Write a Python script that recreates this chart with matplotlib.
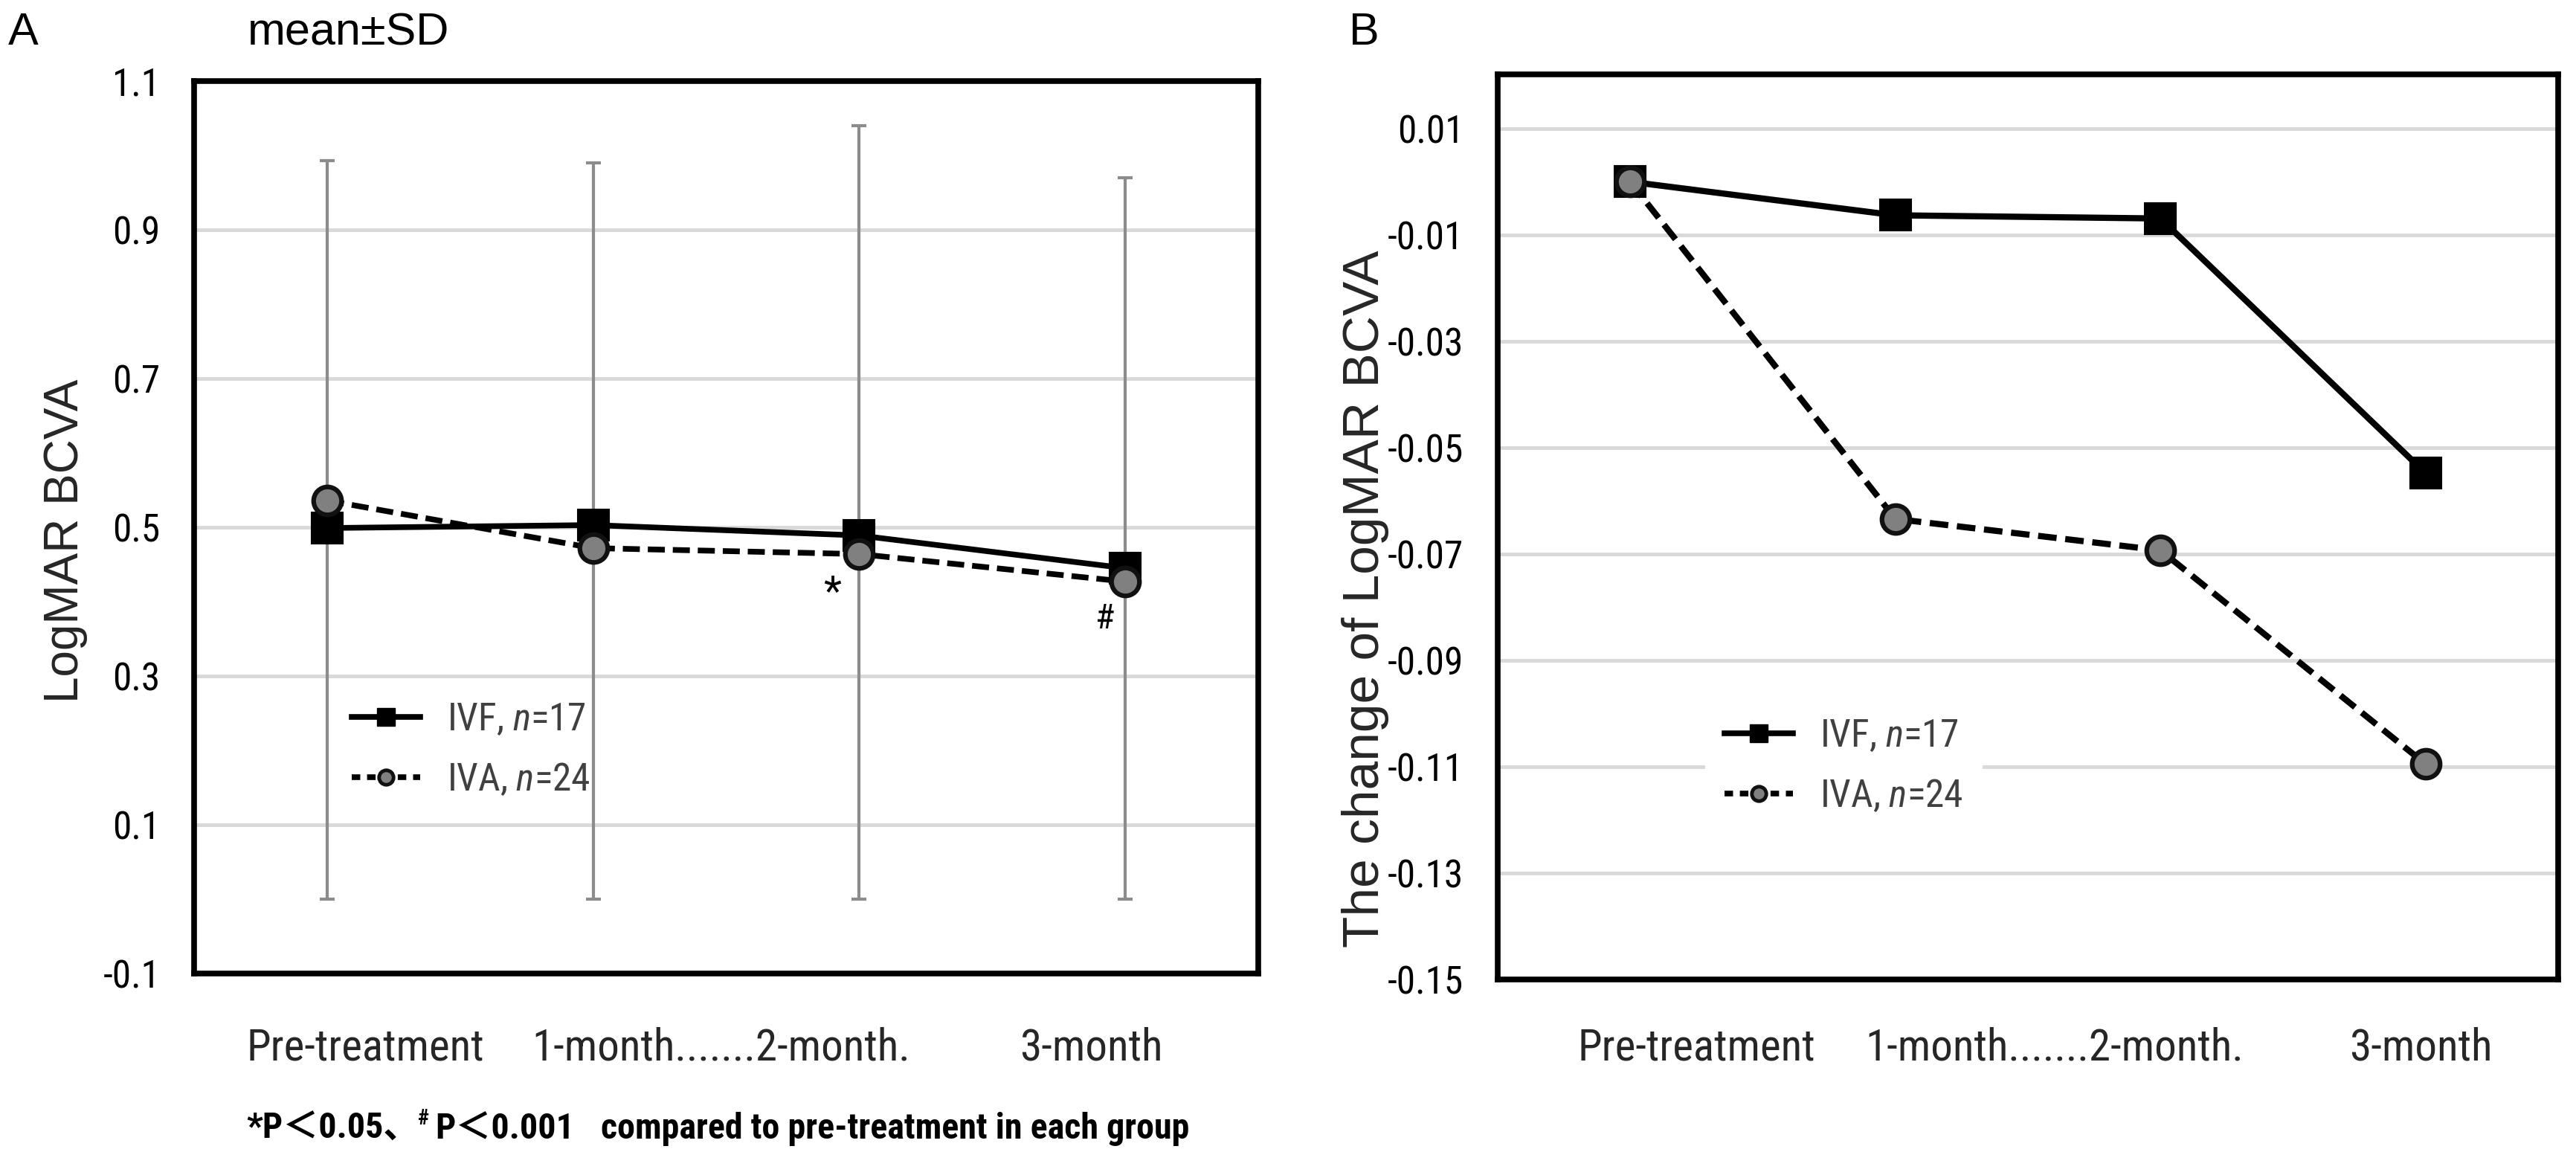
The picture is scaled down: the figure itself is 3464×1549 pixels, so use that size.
import numpy as np
import matplotlib
matplotlib.use("Agg")
import matplotlib.pyplot as plt
from matplotlib import font_manager
from matplotlib.lines import Line2D

# ---- data ----
timepoints = ["Pre-treatment", "1-month", "2-month", "3-month"]
xtick_labels = ["Pre-treatment", "1-month.......2-month.", "3-month"]

# panel A: LogMAR BCVA, mean and SD range
ivf_mean = [0.499, 0.503, 0.489, 0.445]
iva_mean = [0.536, 0.472, 0.464, 0.427]
sd_upper = [0.993, 0.990, 1.040, 0.970]
sd_lower = [0.0, 0.0, 0.0, 0.0]
yticks_a = [-0.1, 0.1, 0.3, 0.5, 0.7, 0.9, 1.1]

# panel B: change of LogMAR BCVA
ivf_change = [0.0, -0.0063, -0.0069, -0.0548]
iva_change = [0.0, -0.0634, -0.0693, -0.1095]
yticks_b = [-0.15, -0.13, -0.11, -0.09, -0.07, -0.05, -0.03, -0.01, 0.01]

ivf_label = "IVF, $n$=17"
iva_label = "IVA, $n$=24"


def pick_font(name, fallback):
    try:
        font_manager.findfont(name, fallback_to_default=False)
        return name
    except Exception:
        return fallback


def find_narrow():
    # look for a narrow / condensed sans face among the installed fonts
    order = ["liberation sans narrow", "arial narrow", "roboto condensed",
             "open sans condensed", "dejavu sans", "noto sans"]
    best = None
    for f in font_manager.fontManager.ttflist:
        tag = (f.name + " " + f.fname).lower()
        st = str(f.stretch).lower()
        if not ("narrow" in tag or "condensed" in tag or st in
                ("condensed", "semi-condensed", "extra-condensed")):
            continue
        if "mono" in tag or "serif" in f.name.lower():
            continue
        rank = len(order)
        for i, o in enumerate(order):
            if o in tag:
                rank = i
                break
        stretch = f.stretch if st not in ("normal", "400", "500") else "condensed"
        if best is None or rank < best[0]:
            best = (rank, f.name, stretch)
    if best is None:
        return pick_font("Liberation Sans", "DejaVu Sans"), "normal"
    return best[1], best[2]


NARROW, STRETCH = find_narrow()
WIDE = pick_font("Liberation Sans", "DejaVu Sans")

plt.rcParams["font.family"] = [NARROW, "DejaVu Sans"]
plt.rcParams["font.stretch"] = STRETCH
plt.rcParams["axes.unicode_minus"] = False
plt.rcParams["mathtext.fontset"] = "custom"
plt.rcParams["mathtext.rm"] = f"{NARROW}:stretch={STRETCH}"
plt.rcParams["mathtext.it"] = f"{NARROW}:style=italic:stretch={STRETCH}"

W, H = 3464, 1549
fig = plt.figure(figsize=(W / 100, H / 100), dpi=100)
renderer = fig.canvas.get_renderer()


def text_width(s, size, **kw):
    t = fig.text(0, 0, s, fontsize=size, **kw)
    w = t.get_window_extent(renderer).width
    t.remove()
    return w


# scale the narrow-font sizes so the category label matches its width (319 px)
k = 319 / text_width("Pre-treatment", 46)
k = min(k, 1.15)
FS_CAT = 46 * k
FS_TICK = 40 * k
FS_LEG = 40 * k
FS_FOOT = 34 * 791 / text_width("compared to pre-treatment in each group", 34,
                                 weight="bold")
FS_FOOT = min(FS_FOOT, 40)


def fpos(x, y):
    # pixel position (from top-left) -> figure fraction
    return x / W, 1 - y / H


def style_axes(ax):
    for s in ax.spines.values():
        s.set_linewidth(5.5)
        s.set_color("black")
    ax.yaxis.grid(True, color="#d9d9d9", linewidth=3.5)
    ax.set_axisbelow(True)
    ax.set_xticks([])
    ax.tick_params(axis="y", length=0, pad=33, labelsize=FS_TICK)
    ax.set_xlim(-0.5, 3.5)


x = np.arange(len(timepoints))

# ---------------- panel A ----------------
axA = fig.add_axes([261 / W, 1 - 1309 / H, 1431 / W, 1200 / H])
style_axes(axA)
axA.set_ylim(-0.1, 1.1)
axA.set_yticks(yticks_a)
axA.set_yticklabels([f"{v:.1f}" for v in yticks_a])

mean_arr = np.array(ivf_mean)
yerr = [mean_arr - np.array(sd_lower), np.array(sd_upper) - mean_arr]
axA.errorbar(x, ivf_mean, yerr=yerr, fmt="none", ecolor="#8c8c8c",
             elinewidth=3, capsize=7, capthick=3, zorder=2)

axA.plot(x, ivf_mean, color="black", lw=5.5, marker="s", ms=30,
         mfc="black", mec="black", mew=1.5, zorder=3)
axA.plot(x, iva_mean, color="black", lw=5.5, dashes=(3, 1.4), marker="o",
         ms=27, mfc="#808080", mec="#111111", mew=4.5, zorder=4)

axA.text(1.90, 0.411, "*", fontsize=40, ha="center", va="center")
axA.text(2.925, 0.377, "#", fontsize=34, ha="center", va="center")

handles = [
    Line2D([], [], color="black", lw=5.5, marker="s", ms=17, mfc="black", mec="black"),
    Line2D([], [], color="black", lw=5.5, dashes=(1.5, 1.2), marker="o", ms=14,
           mfc="#808080", mec="#111111", mew=3.5),
]
legA = axA.legend(handles, [ivf_label, iva_label], loc="upper left",
                  bbox_to_anchor=(0.148, 0.305), fontsize=FS_LEG, frameon=False,
                  borderpad=0, borderaxespad=0, handlelength=1.8,
                  handletextpad=0.7, labelspacing=0.6)
for t in legA.get_texts():
    t.set_color("#404040")

# ---------------- panel B ----------------
axB = fig.add_axes([2014 / W, 1 - 1317 / H, 1426 / W, 1217 / H])
style_axes(axB)
axB.set_ylim(-0.15, 0.0202)
axB.set_yticks(yticks_b)
axB.set_yticklabels([f"{v:.2f}" for v in yticks_b])

axB.plot(x, ivf_change, color="black", lw=6, marker="s", ms=30,
         mfc="black", mec="black", mew=1.5, zorder=3)
axB.plot(x, iva_change, color="black", lw=6, dashes=(3, 1.4), marker="o",
         ms=27, mfc="#808080", mec="#111111", mew=4.5, zorder=4)

legB = axB.legend(handles, [ivf_label, iva_label], loc="upper left",
                  bbox_to_anchor=(0.196, 0.31), fontsize=FS_LEG, frameon=True,
                  facecolor="white", edgecolor="none", framealpha=1,
                  borderpad=0.5, borderaxespad=0, handlelength=1.8,
                  handletextpad=0.7, labelspacing=0.6, fancybox=False)
for t in legB.get_texts():
    t.set_color("#404040")

# ---------------- labels and texts ----------------
fig.text(*fpos(11, 45), "A", fontsize=44, family=WIDE, stretch="normal",
         va="center", ha="left")
fig.text(*fpos(333, 45), "mean\u00b1SD", fontsize=44, family=WIDE, stretch="normal",
         va="center", ha="left")
fig.text(*fpos(1814, 45), "B", fontsize=44, family=WIDE, stretch="normal",
         va="center", ha="left")

fig.text(*fpos(88, 727), "LogMAR BCVA", fontsize=46, family=WIDE, stretch="normal",
         rotation=90, va="center", ha="center", color="#262626")
fig.text(*fpos(1836, 805), "The change of LogMAR BCVA", fontsize=50, family=WIDE,
         stretch="normal", rotation=90, va="center", ha="center", color="#262626")

# category labels under both panels
for xs in [[331, 715, 1371], [2122, 2508, 3159]]:
    for px, lab in zip(xs, xtick_labels):
        fig.text(*fpos(px, 1425), lab, fontsize=FS_CAT, ha="left", va="baseline",
                 color="#262626")

# footnote
foot_font = [NARROW, "Noto Sans CJK JP", "DejaVu Sans"]
fig.text(*fpos(331, 1531), "*P\uff1c0.05\u3001", fontsize=FS_FOOT, weight="bold",
         family=foot_font, ha="left", va="baseline")
fig.text(*fpos(562, 1512), "#", fontsize=FS_FOOT * 0.6, weight="bold",
         family=foot_font, ha="left", va="baseline")
fig.text(*fpos(585, 1531), "P\uff1c0.001", fontsize=FS_FOOT, weight="bold",
         family=foot_font, ha="left", va="baseline")
fig.text(*fpos(808, 1531), "compared to pre-treatment in each group", fontsize=FS_FOOT,
         weight="bold", family=foot_font, ha="left", va="baseline")

fig.savefig("out.png", dpi=100, facecolor="white")
